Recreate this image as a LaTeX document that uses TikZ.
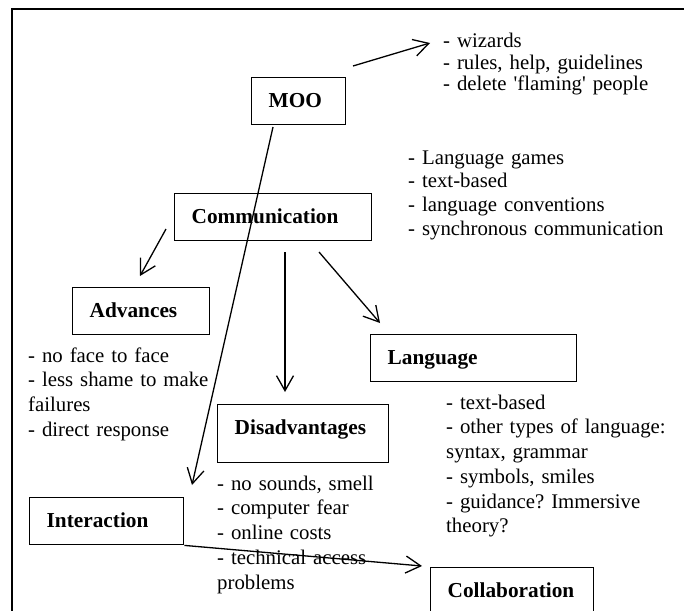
\documentclass[tikz,border=0pt]{standalone}
\usepackage{fontspec}
\setmainfont{Liberation Serif}
\usetikzlibrary{arrows.meta}
\frenchspacing

\tikzset{
  box/.style={draw, line width=1.4pt, anchor=north west, inner xsep=17pt, inner ysep=0pt,
    align=left, font=\fontsize{21.3}{24.75}\selectfont\bfseries, text height=30pt, text depth=17pt},
  notes/.style={anchor=base west, inner sep=0pt, align=left, text width=320pt,
    font=\fontsize{20.8}{24.75}\selectfont},
  link/.style={line width=1.3pt, -{Straight Barb[length=15pt,width=17pt,line width=1.3pt]}},
  frame/.style={line width=2pt}
}

\begin{document}
\begin{tikzpicture}[x=1pt,y=-1pt]
\useasboundingbox (0,0) rectangle (684,610);
\clip (0,0) rectangle (684,610);

% open outer frame
\draw[frame] (12,640) -- (12,9) -- (720,9);

% boxes
\node[box, text width=60pt]  (moo)  at (251,77)  {MOO};
\node[box, text width=163pt] (comm) at (174,193) {Communication};
\node[box, text width=103pt] (adv)  at (72,287)  {Advances};
\node[box, text width=172pt] (lang) at (370,334) {Language};
\node[box, text width=137pt, text depth=28pt] (dis) at (217,404) {Disadvantages};
\node[box, text width=120pt] (inter) at (29,497) {Interaction};
\node[box, text width=129pt] (coll) at (430,567) {Collaboration};

% notes
\node[notes, font=\fontsize{20.8}{21.5}\selectfont] (mooNotes) at (443,48)
  {- wizards\\- rules, help, guidelines\\- delete \textquotesingle flaming\textquotesingle{} people};
\node[notes, font=\fontsize{20.8}{23.7}\selectfont] (commNotes) at (408,164)
  {- Language games\\- text-based\\- language conventions\\- synchronous communication};
\node[notes] (advNotes) at (28,362)
  {- no face to face\\- less shame to make\\failures\\- direct response};
\node[notes] (disNotes) at (217,490)
  {- no sounds, smell\\- computer fear\\- online costs\\- technical access\\problems};
\node[notes] (langNotes) at (446,409)
  {- text-based\\- other types of language:\\syntax, grammar\\- symbols, smiles\\- guidance? Immersive\\theory?};

% connector end points
\coordinate (mooOut)   at (353,66);
\coordinate (mooIn)    at (430,43);
\coordinate (commA)    at (166,229);
\coordinate (advIn)    at (140,276);
\coordinate (commD)    at (285,252);
\coordinate (disIn)    at (285,392);
\coordinate (commL)    at (319,252);
\coordinate (langIn)   at (380,323);
\coordinate (mooDown)  at (273,127);
\coordinate (interIn)  at (192,485);
\coordinate (collIn)   at (422,566);

% connectors
\draw[link] (mooOut) -- (mooIn);
\draw[link] (commA) -- (advIn);
\draw[link] (commD) -- (disIn);
\draw[link] (commL) -- (langIn);
\draw[link] (mooDown) -- (interIn);
\draw[link] (inter.south east) -- (collIn);
\end{tikzpicture}
\end{document}
